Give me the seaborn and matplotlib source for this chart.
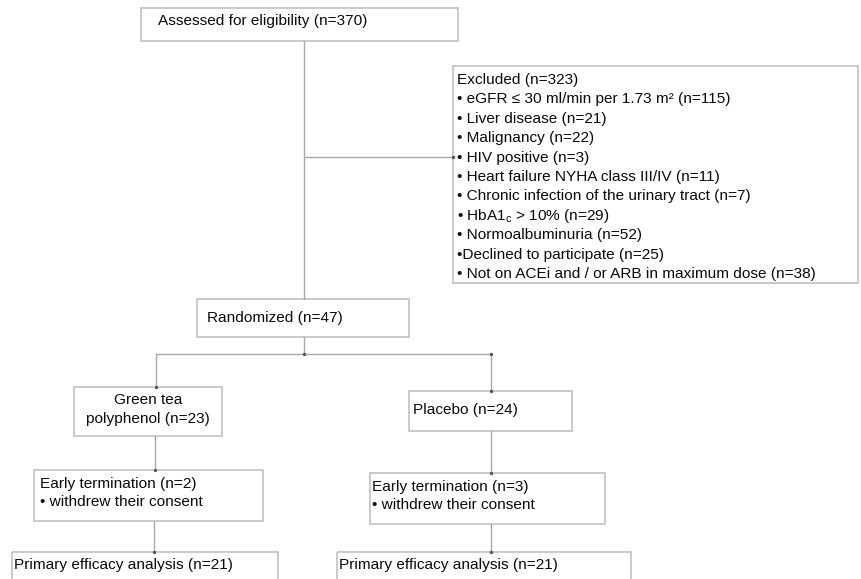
import pandas as pd
import seaborn as sns
import matplotlib.pyplot as plt
from matplotlib.patches import Rectangle

# ---------------------------------------------------------
# 1. Flow data (text + counts)
# ---------------------------------------------------------
n_assessed = 370
n_excluded = 323
exclusion_reasons = [
    'eGFR \u2264 30 ml/min per 1.73 m\u00b2',
    'Liver disease',
    'Malignancy',
    'HIV positive',
    'Heart failure NYHA class III/IV',
    'Chronic infection of the urinary tract',
    'HbA1$_\\mathregular{c}$ > 10%',
    'Normoalbuminuria',
    'Declined to participate',
    'Not on ACEi and / or ARB in maximum dose',
]
exclusion_counts = [115, 21, 22, 3, 11, 7, 29, 52, 25, 38]
n_randomized = 47
arms = ['Green tea\npolyphenol', 'Placebo']
arm_counts = [23, 24]
early_term_counts = [2, 3]
early_term_reason = 'withdrew their consent'
analysed_counts = [21, 21]

# ---------------------------------------------------------
# 2. Layout (pixel coords, y downwards)
# ---------------------------------------------------------
boxes = {
    'assessed': (141, 8, 458, 41),
    'excluded': (453, 66, 858, 283),
    'randomized': (197, 299, 409, 337),
    'arm0': (74, 387, 222, 436),
    'arm1': (409, 391, 572, 431),
    'early0': (34, 470, 263, 521),
    'early1': (370, 473, 605, 524),
    'primary0': (12, 552, 278, 600),
    'primary1': (337, 552, 631, 600),
}
segments = [
    [(304, 41), (304, 299)],
    [(304, 157), (453, 157)],
    [(304, 337), (304, 354)],
    [(156, 354), (491, 354)],
    [(156, 354), (156, 387)],
    [(491, 354), (491, 391)],
    [(155, 436), (155, 470)],
    [(154, 521), (154, 552)],
    [(491, 431), (491, 473)],
    [(491, 524), (491, 552)],
]

sns.set_theme(style='white')
plt.rcParams['font.family'] = ['Liberation Sans', 'DejaVu Sans']
plt.rcParams['mathtext.fontset'] = 'custom'
plt.rcParams['mathtext.rm'] = 'Liberation Sans'
plt.rcParams['mathtext.it'] = 'Liberation Sans:italic'

fig = plt.figure(figsize=(8.61, 5.79), dpi=100)
ax = fig.add_axes([0, 0, 1, 1])
ax.set_xlim(0, 861)
ax.set_ylim(579, 0)
ax.axis('off')

# boxes
for x0, y0, x1, y1 in boxes.values():
    ax.add_patch(Rectangle((x0, y0), x1 - x0, y1 - y0, fill=False,
                           edgecolor='#c6c6c6', linewidth=1.3))

# connectors via seaborn
rows = []
for i, seg in enumerate(segments):
    for x, y in seg:
        rows.append({'seg': i, 'x': x, 'y': y})
seg_df = pd.DataFrame(rows)
sns.lineplot(data=seg_df, x='x', y='y', units='seg', estimator=None, sort=False,
             color='#a8a8a8', linewidth=1.0, ax=ax, legend=False)
ends = seg_df.groupby('seg').last()
ends = ends[ends.index != 0]
ax.scatter(ends['x'], ends['y'], s=2, color='#555555', zorder=3)

fs = 11.1
txt = dict(fontsize=fs, color='#0a0a0a', va='center', ha='left')

ax.text(158, 21, f'Assessed for eligibility (n={n_assessed})', **txt)

ax.text(457, 80, f'Excluded (n={n_excluded})', **txt)
for k, (reason, cnt) in enumerate(zip(exclusion_reasons, exclusion_counts)):
    bullet = '\u2022' if reason.startswith('Declined') else '\u2022 '
    ax.text(457, 80 + (k + 1) * 19.4, f'{bullet}{reason} (n={cnt})', **txt)

ax.text(207, 318, f'Randomized (n={n_randomized})', **txt)

# arms
arm_lines = arms[0].split('\n')
ax.text(148, 400, arm_lines[0], fontsize=fs, color='#0a0a0a', va='center', ha='center')
ax.text(148, 419, f'{arm_lines[1]} (n={arm_counts[0]})', fontsize=fs, color='#0a0a0a',
        va='center', ha='center')
ax.text(413, 410, f'{arms[1]} (n={arm_counts[1]})', **txt)

# early termination
for (x, y), cnt in zip([(40, 484), (372, 487)], early_term_counts):
    ax.text(x, y, f'Early termination (n={cnt})', **txt)
    ax.text(x, y + 18, f'\u2022 {early_term_reason}', **txt)

# primary analysis
for x, cnt in zip([14, 339], analysed_counts):
    ax.text(x, 565, f'Primary efficacy analysis (n={cnt})', **txt)

plt.savefig('out.png', dpi=100)
